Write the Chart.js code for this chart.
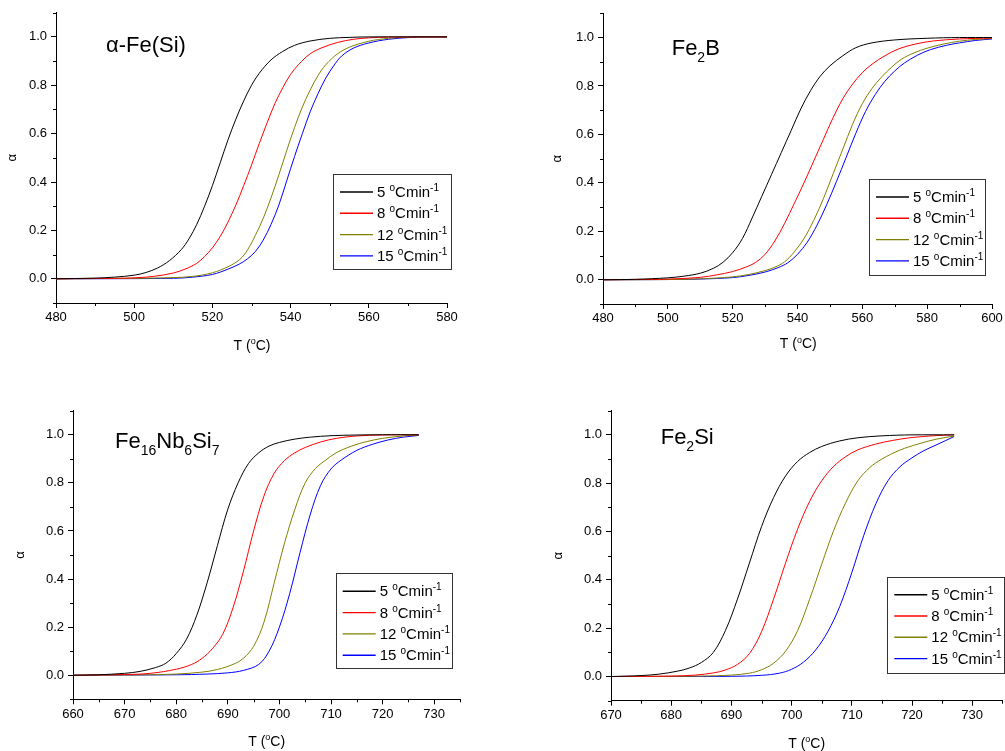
<!DOCTYPE html>
<html>
<head>
<meta charset="utf-8">
<script src="https://cdn.jsdelivr.net/npm/chart.js@4.4.0/dist/chart.umd.min.js"></script>
<style>
  body { margin: 0; background: #fff; }
  #wrap { position: relative; width: 1005px; height: 751px; }
  canvas { position: absolute; }
</style>
</head>
<body>
<div id="wrap">
  <canvas id="c1" width="470" height="360" style="left:0px;top:0px"></canvas>
  <canvas id="c2" width="465" height="360" style="left:540px;top:0px"></canvas>
  <canvas id="c3" width="470" height="361" style="left:0px;top:390px"></canvas>
  <canvas id="c4" width="465" height="361" style="left:540px;top:390px"></canvas>
</div>
<script>
// heating rates (legend)
const rates = ["5", "8", "12", "15"];
const colors = ["#000000", "#ff0000", "#808000", "#0000ff"];

// alpha-Fe(Si) : [T, alpha]
const feSi5 = [[480,0],[490,0.003],[495,0.007],[500,0.015],[503,0.026],[506,0.045],[509,0.075],[512,0.12],[514,0.165],[516,0.225],[518,0.3],[520,0.385],[522,0.48],[524,0.575],[526,0.66],[528,0.735],[530,0.8],[532,0.85],[535,0.905],[538,0.94],[541,0.965],[545,0.983],[550,0.994],[555,0.998],[560,1],[580,1]];
const feSi8 = [[480,0],[495,0.002],[500,0.004],[505,0.01],[510,0.024],[513,0.04],[516,0.064],[518,0.092],[520,0.128],[522,0.175],[524,0.235],[526,0.305],[528,0.385],[530,0.47],[532,0.56],[534,0.645],[536,0.725],[538,0.79],[540,0.845],[542,0.885],[545,0.93],[548,0.955],[552,0.977],[556,0.99],[560,0.996],[565,0.999],[580,1]];
const feSi12 = [[480,0],[500,0.002],[510,0.005],[515,0.01],[520,0.025],[524,0.05],[527,0.08],[529,0.12],[531,0.18],[533,0.25],[535,0.335],[537,0.43],[539,0.53],[541,0.625],[543,0.71],[545,0.78],[547,0.84],[549,0.885],[552,0.93],[555,0.957],[560,0.982],[565,0.994],[570,0.999],[580,1]];
const feSi15 = [[480,0],[510,0.002],[515,0.007],[520,0.018],[524,0.04],[527,0.062],[529,0.083],[531,0.113],[533,0.16],[535,0.225],[537,0.305],[539,0.405],[541,0.505],[543,0.6],[545,0.69],[547,0.765],[549,0.83],[551,0.88],[553,0.92],[556,0.953],[560,0.975],[565,0.99],[570,0.997],[575,1],[580,1]];

// Fe2B
const fe2B5 = [[480,0],[490,0.002],[500,0.008],[505,0.015],[510,0.027],[514,0.047],[517,0.072],[520,0.112],[523,0.17],[526,0.255],[529,0.345],[532,0.435],[535,0.525],[538,0.615],[541,0.705],[544,0.78],[547,0.84],[550,0.883],[554,0.925],[558,0.958],[563,0.978],[570,0.99],[580,0.997],[590,1],[600,1]];
const fe2B8 = [[480,0],[490,0.001],[500,0.003],[510,0.01],[515,0.02],[520,0.034],[524,0.052],[527,0.071],[530,0.105],[533,0.16],[536,0.232],[539,0.315],[542,0.4],[545,0.49],[548,0.58],[551,0.67],[554,0.748],[557,0.808],[560,0.855],[563,0.89],[567,0.925],[571,0.952],[576,0.972],[582,0.986],[590,0.994],[600,0.998]];
const fe2B12 = [[480,0],[500,0.001],[510,0.004],[520,0.012],[525,0.022],[530,0.038],[533,0.052],[536,0.074],[539,0.115],[542,0.17],[545,0.245],[548,0.335],[551,0.438],[554,0.54],[557,0.642],[560,0.727],[563,0.79],[566,0.838],[569,0.877],[572,0.91],[576,0.937],[580,0.956],[585,0.973],[590,0.985],[595,0.992],[600,0.996]];
const fe2B15 = [[480,0],[500,0.001],[510,0.003],[520,0.009],[525,0.018],[530,0.032],[534,0.05],[537,0.07],[540,0.105],[543,0.155],[546,0.225],[549,0.31],[552,0.405],[555,0.505],[558,0.605],[561,0.695],[564,0.765],[567,0.82],[570,0.862],[573,0.895],[577,0.927],[581,0.95],[586,0.968],[590,0.978],[595,0.988],[600,0.994]];

// Fe16Nb6Si7
const feNb5 = [[660,0],[665,0.002],[670,0.008],[673,0.016],[676,0.032],[678,0.05],[680,0.09],[682,0.15],[684,0.25],[686,0.385],[688,0.54],[690,0.69],[692,0.8],[694,0.88],[696,0.925],[698,0.953],[700,0.968],[703,0.982],[706,0.99],[710,0.996],[715,0.999],[720,1],[727,1]];
const feNb8 = [[660,0],[670,0.003],[675,0.008],[680,0.025],[683,0.045],[685,0.07],[687,0.11],[689,0.17],[691,0.28],[693,0.43],[695,0.6],[697,0.745],[699,0.84],[701,0.893],[703,0.925],[705,0.947],[708,0.97],[711,0.985],[715,0.995],[720,0.999],[727,1]];
const feNb12 = [[660,0],[675,0.002],[680,0.005],[685,0.013],[688,0.024],[691,0.045],[693,0.07],[695,0.12],[697,0.22],[699,0.385],[701,0.55],[703,0.69],[705,0.8],[707,0.86],[709,0.895],[711,0.925],[714,0.953],[717,0.972],[720,0.985],[724,0.995],[727,0.999]];
const feNb15 = [[660,0],[680,0.002],[686,0.005],[690,0.01],[693,0.02],[696,0.045],[698,0.1],[700,0.2],[702,0.34],[704,0.51],[706,0.67],[708,0.79],[710,0.858],[712,0.895],[715,0.935],[718,0.96],[721,0.978],[724,0.99],[727,0.997]];

// Fe2Si
const fe2Si5 = [[670,0],[675,0.004],[678,0.01],[681,0.022],[683,0.035],[685,0.058],[687,0.1],[689,0.19],[691,0.32],[693,0.47],[695,0.62],[697,0.74],[699,0.83],[701,0.89],[703,0.927],[705,0.952],[708,0.975],[711,0.988],[715,0.996],[720,1],[727,1]];
const fe2Si8 = [[670,0],[680,0.002],[684,0.006],[687,0.015],[689,0.027],[691,0.05],[693,0.095],[695,0.185],[697,0.32],[699,0.47],[701,0.61],[703,0.725],[705,0.81],[707,0.87],[709,0.91],[711,0.938],[714,0.962],[717,0.978],[720,0.989],[724,0.997],[727,1]];
const fe2Si12 = [[670,0],[685,0.002],[690,0.006],[693,0.014],[695,0.028],[697,0.055],[699,0.105],[701,0.19],[703,0.32],[705,0.465],[707,0.605],[709,0.72],[711,0.81],[713,0.865],[715,0.9],[718,0.937],[721,0.962],[724,0.982],[727,0.995]];
const fe2Si15 = [[670,0],[690,0.001],[695,0.005],[698,0.014],[700,0.03],[702,0.06],[704,0.11],[706,0.185],[708,0.29],[710,0.43],[712,0.585],[714,0.715],[716,0.81],[718,0.868],[720,0.905],[722,0.935],[724,0.958],[727,0.993]];

// y axis ticks
const yMin = -0.1, yMax = 1.1, yStep = 0.1, yMajor = 0.2;

const FONT = "'Liberation Sans', Arial, Helvetica, sans-serif";

function isMajor(v, step) {
  const r = v / step;
  return Math.abs(r - Math.round(r)) < 1e-6;
}

// draw text with sub/superscript pieces
function rich(ctx, x, y, parts, size, measureOnly) {
  let w = 0;
  for (const [t, k] of parts) {
    const s = k ? Math.round(size * 0.64) : size;
    ctx.font = s + "px " + FONT;
    const dy = k === "sub" ? size * 0.32 : k === "sup" ? -size * 0.4 : 0;
    if (!measureOnly) ctx.fillText(t, x + w, y + dy);
    w += ctx.measureText(t).width;
  }
  return w;
}

const deco = {
  id: "deco",
  afterDraw(chart, args, o) {
    const ctx = chart.ctx;
    const xs = chart.scales.x, ys = chart.scales.y;
    ctx.save();
    // minor ticks
    ctx.strokeStyle = "#000";
    ctx.lineWidth = 1;
    ctx.beginPath();
    xs.ticks.forEach(t => {
      if (!isMajor(t.value, o.xMajor)) {
        const p = Math.round(xs.getPixelForValue(t.value)) + 0.5;
        ctx.moveTo(p, xs.top);
        ctx.lineTo(p, xs.top + 3);
      }
    });
    ys.ticks.forEach(t => {
      if (!isMajor(t.value, yMajor)) {
        const p = Math.round(ys.getPixelForValue(t.value)) + 0.5;
        ctx.moveTo(ys.right, p);
        ctx.lineTo(ys.right - 3, p);
      }
    });
    ctx.stroke();

    ctx.fillStyle = "#000";
    ctx.textAlign = "left";
    ctx.textBaseline = "alphabetic";

    // panel title
    rich(ctx, o.title.x, o.title.y, o.title.parts, 22);

    // x axis title
    const xt = [["T (", ""], ["o", "sup"], ["C)", ""]];
    const w = rich(ctx, 0, 0, xt, 14, true);
    rich(ctx, o.xTitle.x - w / 2, o.xTitle.y + 5, xt, 14);

    // legend box
    const lg = o.legend;
    ctx.strokeStyle = "#333";
    ctx.lineWidth = 1;
    ctx.strokeRect(Math.round(lg.x) + 0.5, Math.round(lg.y) + 0.5, lg.w, lg.h);
    rates.forEach((r, i) => {
      const cy = lg.y + 18 + i * 21.3;
      ctx.strokeStyle = colors[i];
      ctx.lineWidth = 1.4;
      ctx.beginPath();
      ctx.moveTo(lg.x + 7, cy);
      ctx.lineTo(lg.x + 40, cy);
      ctx.stroke();
      rich(ctx, lg.x + 44, cy + 5, [[r + " ", ""], ["o", "sup"], ["Cmin", ""], ["-1", "sup"]], 15);
    });
    ctx.restore();
  }
};

function makePanel(id, series, p) {
  new Chart(document.getElementById(id), {
    type: "line",
    data: {
      datasets: series.map((s, i) => ({
        label: rates[i] + " °Cmin-1",
        data: s.map(([x, y]) => ({ x: x, y: y })),
        borderColor: colors[i],
        borderWidth: 1,
        pointRadius: 0,
        fill: false,
        tension: 0.35,
      })),
    },
    options: {
      responsive: false,
      animation: false,
      events: [],
      layout: { padding: { left: 0, top: p.padTop, right: p.padRight, bottom: 0 } },
      scales: {
        x: {
          type: "linear",
          min: p.xMin,
          max: p.xMax,
          afterFit: (s) => { s.height = p.xH; s.paddingLeft = 0; s.paddingRight = 0; },
          border: { color: "#000", width: 1 },
          grid: {
            drawOnChartArea: false,
            tickLength: 5,
            tickColor: (c) => (c.tick && isMajor(c.tick.value, p.xMajor) ? "#000" : "rgba(0,0,0,0)"),
          },
          ticks: {
            stepSize: p.xStep,
            autoSkip: false,
            maxRotation: 0,
            padding: 2,
            color: "#000",
            font: { family: FONT, size: 13 },
            callback: (v) => (isMajor(v, p.xMajor) ? String(Math.round(v)) : ""),
          },
        },
        y: {
          type: "linear",
          min: yMin,
          max: yMax,
          afterFit: (s) => { s.width = p.yW; s.paddingTop = 0; s.paddingBottom = 0; },
          border: { color: "#000", width: 1 },
          grid: {
            drawOnChartArea: false,
            tickLength: 5,
            tickColor: (c) => (c.tick && isMajor(c.tick.value, yMajor) ? "#000" : "rgba(0,0,0,0)"),
          },
          ticks: {
            stepSize: yStep,
            autoSkip: false,
            padding: 4,
            color: "#000",
            font: { family: FONT, size: 13 },
            callback: (v) => {
              const r = Math.round(v * 10);
              return r >= 0 && r <= 10 && r % 2 === 0 ? (r / 10).toFixed(1) : "";
            },
          },
          title: {
            display: true,
            text: "α",
            color: "#000",
            font: { family: FONT, size: 13 },
            padding: { top: p.yTitlePad, bottom: 0 },
          },
        },
      },
      plugins: {
        legend: { display: false },
        tooltip: { enabled: false },
        deco: {
          xMajor: p.xMajor,
          title: p.title,
          xTitle: p.xTitle,
          legend: p.legend,
        },
      },
    },
    plugins: [deco],
  });
}

makePanel("c1", [feSi5, feSi8, feSi12, feSi15], {
  xMin: 480, xMax: 580, xStep: 10, xMajor: 20,
  padTop: 12.7, padRight: 23, xH: 57, yW: 56, yTitlePad: 5,
  title: { x: 106, y: 51.7, parts: [["α-Fe(Si)", ""]] },
  xTitle: { x: 252, y: 345 },
  legend: { x: 333, y: 174, w: 118, h: 95 },
});

makePanel("c2", [fe2B5, fe2B8, fe2B12, fe2B15], {
  xMin: 480, xMax: 600, xStep: 10, xMajor: 20,
  padTop: 13.3, padRight: 13, xH: 56, yW: 63, yTitlePad: 10,
  title: { x: 131.7, y: 55, parts: [["Fe", ""], ["2", "sub"], ["B", ""]] },
  xTitle: { x: 258.3, y: 343.3 },
  legend: { x: 329, y: 179, w: 116, h: 96 },
});

makePanel("c3", [feNb5, feNb8, feNb12, feNb15], {
  xMin: 660, xMax: 735, xStep: 5, xMajor: 10,
  padTop: 20.7, padRight: 10, xH: 51.7, yW: 73, yTitlePad: 13,
  title: { x: 115, y: 58.3, parts: [["Fe", ""], ["16", "sub"], ["Nb", ""], ["6", "sub"], ["Si", ""], ["7", "sub"]] },
  xTitle: { x: 266.7, y: 350.7 },
  legend: { x: 335.7, y: 183.3, w: 116, h: 95 },
});

makePanel("c4", [fe2Si5, fe2Si8, fe2Si12, fe2Si15], {
  xMin: 670, xMax: 735, xStep: 5, xMajor: 10,
  padTop: 20.7, padRight: 2.7, xH: 50.3, yW: 71, yTitlePad: 10.5,
  title: { x: 120.7, y: 54, parts: [["Fe", ""], ["2", "sub"], ["Si", ""]] },
  xTitle: { x: 266.7, y: 352.7 },
  legend: { x: 347.3, y: 186.7, w: 117, h: 96 },
});
</script>
</body>
</html>
